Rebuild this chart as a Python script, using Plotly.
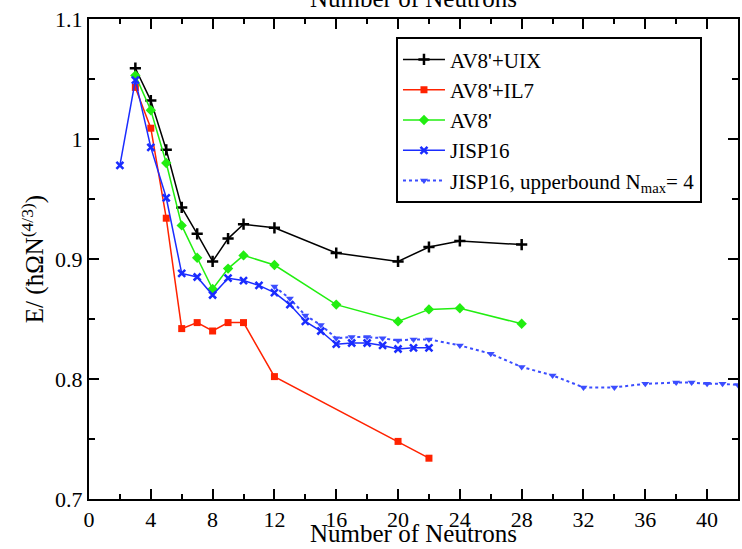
import plotly.graph_objects as go

# Energy per nucleon-scaled unit vs neutron number
n_uix = [3, 4, 5, 6, 7, 8, 9, 10, 12, 16, 20, 22, 24, 28]
e_uix = [1.059, 1.032, 0.991, 0.943, 0.921, 0.898, 0.917, 0.929, 0.926, 0.905, 0.898, 0.910, 0.915, 0.912]

n_il7 = [3, 4, 5, 6, 7, 8, 9, 10, 12, 20, 22]
e_il7 = [1.043, 1.009, 0.934, 0.842, 0.847, 0.840, 0.847, 0.847, 0.802, 0.748, 0.734]

n_av8 = [3, 4, 5, 6, 7, 8, 9, 10, 12, 16, 20, 22, 24, 28]
e_av8 = [1.053, 1.024, 0.980, 0.928, 0.901, 0.875, 0.892, 0.903, 0.895, 0.862, 0.848, 0.858, 0.859, 0.846]

n_jisp = [2, 3, 4, 5, 6, 7, 8, 9, 10, 11, 12, 13, 14, 15, 16, 17, 18, 19, 20, 21, 22]
e_jisp = [0.978, 1.049, 0.993, 0.951, 0.888, 0.885, 0.870, 0.884, 0.882, 0.878, 0.872,
          0.862, 0.848, 0.840, 0.829, 0.830, 0.830, 0.828, 0.825, 0.826, 0.826]

n_ub = [12, 13, 14, 15, 16, 17, 18, 19, 20, 21, 22, 24, 26, 28, 30, 32, 34, 36, 38, 39, 40, 41, 42]
e_ub = [0.877, 0.867, 0.853, 0.845, 0.834, 0.835, 0.835, 0.834, 0.832, 0.833, 0.833,
        0.828, 0.821, 0.810, 0.803, 0.793, 0.793, 0.796, 0.797, 0.797, 0.796, 0.796, 0.795]

y_tick_vals = [0.7, 0.8, 0.9, 1.0, 1.1]
y_tick_text = ["0.7", "0.8", "0.9", "1", "1.1"]

FONT = "Liberation Serif"

fig = go.Figure()
fig.add_trace(go.Scatter(
    x=n_ub, y=e_ub, mode="lines+markers", name="JISP16, upperbound N<sub>max</sub>= 4",
    line=dict(color="#3b4dff", width=2, dash="dot"),
    marker=dict(symbol="triangle-down", size=7, color="#3b4dff"),
    legendrank=5,
))
fig.add_trace(go.Scatter(
    x=n_uix, y=e_uix, mode="lines+markers", name="AV8'+UIX",
    line=dict(color="black", width=1.5),
    marker=dict(symbol="cross-thin", size=8, line=dict(color="black", width=2.5)),
    legendrank=1,
))
fig.add_trace(go.Scatter(
    x=n_il7, y=e_il7, mode="lines+markers", name="AV8'+IL7",
    line=dict(color="#ff2200", width=1.5),
    marker=dict(symbol="square", size=7, color="#ff2200"),
    legendrank=2,
))
fig.add_trace(go.Scatter(
    x=n_av8, y=e_av8, mode="lines+markers", name="AV8'",
    line=dict(color="#22ee11", width=1.5),
    marker=dict(symbol="diamond", size=8, color="#22ee11"),
    legendrank=3,
))
fig.add_trace(go.Scatter(
    x=n_jisp, y=e_jisp, mode="lines+markers", name="JISP16",
    line=dict(color="#1a2cff", width=1.5),
    marker=dict(symbol="x-thin", size=7, line=dict(color="#1a2cff", width=2.5)),
    legendrank=4,
))

axis_common = dict(
    showline=True, linecolor="black", linewidth=2, mirror="allticks",
    ticks="inside", tickcolor="black", tickwidth=1.5, ticklen=10,
    showgrid=False, zeroline=False,
    tickfont=dict(family=FONT, size=22, color="black"),
)

fig.update_xaxes(
    range=[0, 42], dtick=4, tick0=0,
    minor=dict(dtick=2, ticks="inside", ticklen=5, tickcolor="black", tickwidth=1.5),
    **axis_common,
)
fig.update_yaxes(
    range=[0.7, 1.1], tickmode="array", tickvals=y_tick_vals, ticktext=y_tick_text,
    minor=dict(dtick=0.05, tick0=0.7, ticks="inside", ticklen=6, tickcolor="black", tickwidth=1.5),
    title=dict(text="E/ (ħΩN<sup>(4/3)</sup>)", font=dict(family=FONT, size=25, color="black"), standoff=4),
    **axis_common,
)

# bottom axis title and the partly visible top axis title
fig.add_annotation(
    text="Number of Neutrons", xref="paper", yref="paper", x=0.5, y=0,
    xanchor="center", yanchor="bottom", yshift=-50, showarrow=False,
    font=dict(family=FONT, size=25, color="black"),
)
fig.add_annotation(
    text="Number of Neutrons", xref="paper", yref="paper", x=0.5, y=1,
    xanchor="center", yanchor="bottom", yshift=5, showarrow=False,
    font=dict(family=FONT, size=25, color="black"),
)

fig.update_layout(
    width=742, height=549,
    margin=dict(l=89, r=2, t=19, b=50),
    paper_bgcolor="white", plot_bgcolor="white",
    legend=dict(
        x=0.473, y=0.962, xanchor="left", yanchor="top",
        bgcolor="white", bordercolor="black", borderwidth=2,
        font=dict(family=FONT, size=21, color="black"),
        traceorder="normal", itemwidth=42, tracegroupgap=0,
    ),
    showlegend=True,
)

fig.write_html("out.html")
